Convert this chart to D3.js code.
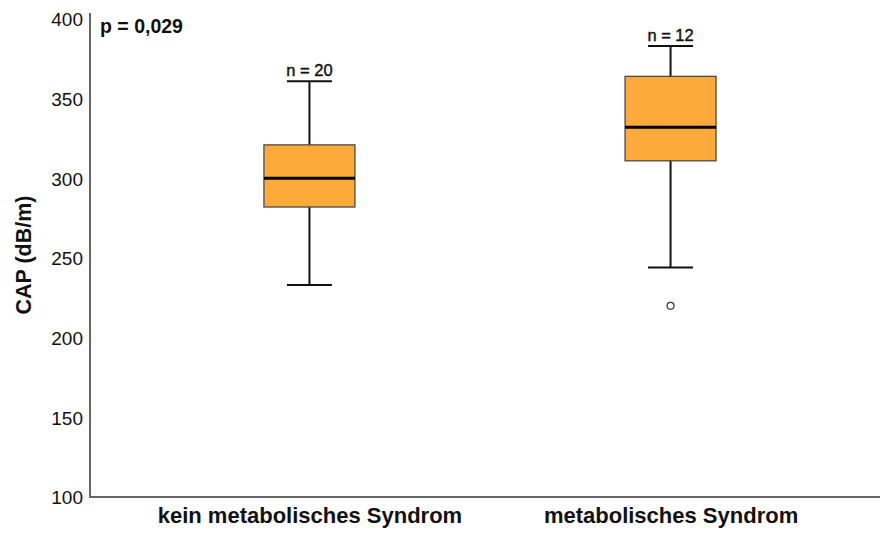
<!DOCTYPE html>
<html>
<head>
<meta charset="utf-8">
<script src="https://cdn.jsdelivr.net/npm/d3@7"></script>
<style>
  body { margin: 0; background: #fff; }
  text { font-family: "Liberation Sans", Arial, sans-serif; }
</style>
</head>
<body>
<div id="chart"></div>
<script>
// data
var groups = ["kein metabolisches Syndrom", "metabolisches Syndrom"];
var counts = [20, 12];
var whiskerLow = [233, 244];
var q1 = [282, 311];
var median = [300, 332];
var q3 = [321, 364];
var whiskerHigh = [361, 383];
var outliers = [[], [220]];
var yTicks = [100, 150, 200, 250, 300, 350, 400];

var width = 880;
var height = 533;
var margin = { left: 90, right: 0, top: 19, bottom: 36 };

var svg = d3.select("#chart").
    append("svg").
    attr("width", width).
    attr("height", height);

var yScale = d3.scaleLinear().
    domain([100, 400]).
    range([height - margin.bottom, margin.top]);

var xScale = d3.scalePoint().
    domain(groups).
    range([100, width - margin.right]).
    padding(0.58);

var boxW = 91;
var capW = 45;

// y axis, labels only
var yAxis = d3.axisLeft(yScale).
    tickValues(yTicks).
    tickSize(0).
    tickPadding(7);

var gy = svg.append("g").
    attr("transform", "translate(" + margin.left + ",0)").
    call(yAxis);
gy.select(".domain").remove();
gy.selectAll("text").
    attr("font-size", 19).
    attr("fill", "#111").
    attr("dy", "0.36em");

// axis lines
svg.append("path").
    attr("d", "M" + margin.left + "," + (margin.top - 6) +
        "V" + yScale(100) + "H" + (width - margin.right)).
    attr("fill", "none").
    attr("stroke", "#666").
    attr("stroke-width", 2);

// x axis labels
var xAxis = d3.axisBottom(xScale).tickSize(0).tickPadding(10.5);
var gx = svg.append("g").
    attr("transform", "translate(0," + yScale(100) + ")").
    call(xAxis);
gx.select(".domain").remove();
gx.selectAll("text").
    attr("font-size", 22).
    attr("font-weight", "bold").
    attr("fill", "#111");

// y title
svg.append("text").
    attr("transform", "translate(31," + ((yScale(100) + yScale(400)) / 2 - 3) + ") rotate(-90)").
    attr("text-anchor", "middle").
    attr("font-size", 21.5).
    attr("font-weight", "bold").
    attr("fill", "#111").
    text("CAP (dB/m)");

// p value
svg.append("text").
    attr("x", 100).
    attr("y", 33).
    attr("font-size", 19.5).
    attr("font-weight", "bold").
    attr("fill", "#111").
    text("p = 0,029");

var box = svg.selectAll("g.box").
    data(groups).
    enter().
    append("g").
    attr("class", "box");

// whisker stems
box.append("line").
    attr("x1", function (d) { return xScale(d); }).
    attr("x2", function (d) { return xScale(d); }).
    attr("y1", function (d, i) { return yScale(whiskerLow[i]); }).
    attr("y2", function (d, i) { return yScale(whiskerHigh[i]); }).
    attr("stroke", "#111").
    attr("stroke-width", 2);

// caps
[whiskerLow, whiskerHigh].forEach(function (arr) {
    box.append("line").
        attr("x1", function (d) { return xScale(d) - capW / 2; }).
        attr("x2", function (d) { return xScale(d) + capW / 2; }).
        attr("y1", function (d, i) { return yScale(arr[i]); }).
        attr("y2", function (d, i) { return yScale(arr[i]); }).
        attr("stroke", "#111").
        attr("stroke-width", 2);
});

box.append("rect").
    attr("x", function (d) { return xScale(d) - boxW / 2; }).
    attr("width", boxW).
    attr("y", function (d, i) { return yScale(q3[i]); }).
    attr("height", function (d, i) { return yScale(q1[i]) - yScale(q3[i]); }).
    attr("fill", "#fdaa3a").
    attr("stroke", "#4a4a4a").
    attr("stroke-width", 1.3);

box.append("line").
    attr("x1", function (d) { return xScale(d) - boxW / 2; }).
    attr("x2", function (d) { return xScale(d) + boxW / 2; }).
    attr("y1", function (d, i) { return yScale(median[i]); }).
    attr("y2", function (d, i) { return yScale(median[i]); }).
    attr("stroke", "#000").
    attr("stroke-width", 3);

// n labels above the top whisker
box.append("text").
    attr("x", function (d) { return xScale(d); }).
    attr("y", function (d, i) { return yScale(whiskerHigh[i]) - 5; }).
    attr("text-anchor", "middle").
    attr("font-size", 16.5).
    attr("fill", "#111").
    attr("stroke", "#111").
    attr("stroke-width", 0.4).
    text(function (d, i) { return "n = " + counts[i]; });

// outliers
box.each(function (d, i) {
    d3.select(this).selectAll("circle").
        data(outliers[i]).
        enter().
        append("circle").
        attr("cx", xScale(d)).
        attr("cy", function (v) { return yScale(v); }).
        attr("r", 3.5).
        attr("fill", "#fff").
        attr("stroke", "#333").
        attr("stroke-width", 1.2);
});
</script>
</body>
</html>
